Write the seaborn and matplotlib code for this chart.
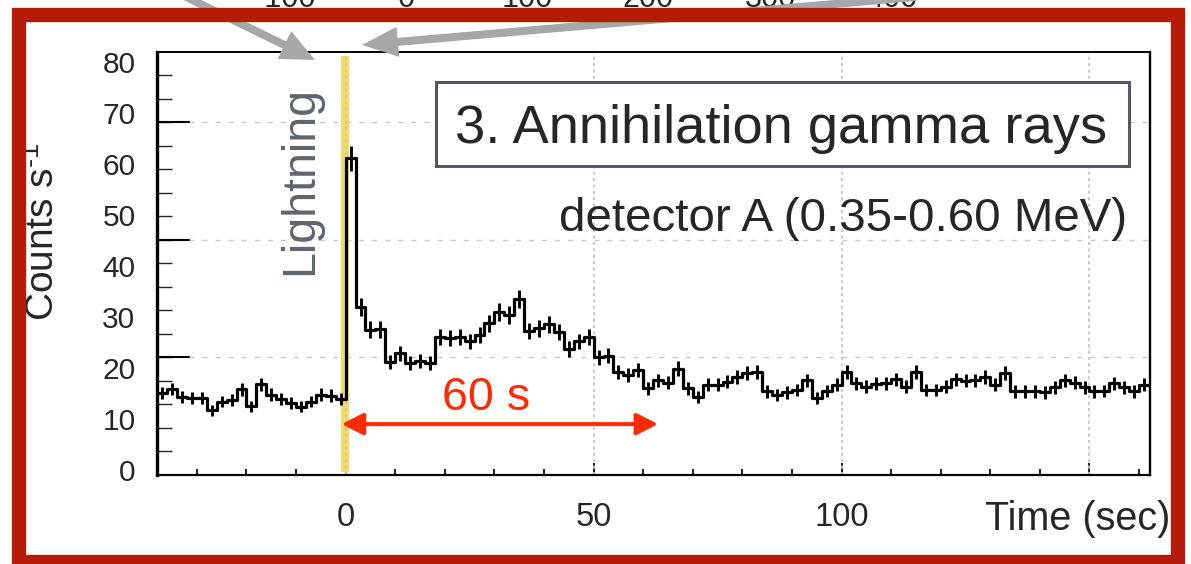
import numpy as np
import pandas as pd
import matplotlib
matplotlib.use("Agg")
import matplotlib.pyplot as plt
import seaborn as sns
from matplotlib.patches import Rectangle, FancyArrow
from matplotlib.transforms import IdentityTransform

# ---------------- data ----------------
bin_left = np.arange(-38, 162, 2)          # 2-s bins, left edges (sec)
rate_before = [15.1, 15.9, 14.4, 14.1, 14.1, 11.7, 13.4, 13.7, 15.8, 12.5,
               16.8, 14.8, 14.0, 13.1, 12.4, 13.4, 14.8, 14.6, 14.0]
rate_after = [61.1, 32.0, 27.5, 27.6, 21.2, 22.9, 21.0, 21.4, 21.0, 26.1,
              25.8, 26.1, 25.2, 26.5, 28.8, 31.0, 30.4, 33.5, 27.3, 27.8,
              28.6, 27.1, 23.7, 25.2, 26.0, 22.1, 22.4, 19.3, 18.6, 19.6,
              16.0, 17.6, 17.1, 19.9, 16.0, 14.4, 16.7, 16.7, 17.3, 18.2,
              19.0, 19.3, 15.4, 14.7, 15.2, 15.7, 17.6, 14.1, 15.5, 16.7,
              19.3, 17.0, 16.3, 16.9, 17.0, 17.8, 16.3, 19.3, 15.7, 15.7,
              16.3, 17.8, 17.5, 17.6, 18.2, 16.7, 19.0, 15.4, 15.4, 15.4,
              15.2, 16.2, 17.6, 17.1, 16.2, 15.4, 15.5, 17.0, 16.2, 15.4,
              16.7]
rates = rate_before + rate_after
x_tick_values = [0, 50, 100, 150]
x_tick_labels = ["0", "50", "100", ""]
y_tick_values = [0, 10, 20, 30, 40, 50, 60, 70, 80]
top_labels = ["-100", "0", "100", "200", "300", "400"]

df = pd.DataFrame({"time": bin_left + 1.0, "rate": rates})
df["err"] = 0.31 * np.sqrt(df["rate"])
edges = [float(e) for e in np.append(bin_left, bin_left[-1] + 2)]

# ---------------- style ----------------
sns.set_style("ticks")
plt.rcParams["font.family"] = ["Liberation Sans", "DejaVu Sans"]
plt.rcParams["mathtext.fontset"] = "custom"
plt.rcParams["mathtext.rm"] = "Liberation Sans"
plt.rcParams["mathtext.default"] = "regular"
plt.rcParams["lines.scale_dashes"] = False

W, H = 1191, 564
fig = plt.figure(figsize=(W / 100, H / 100), dpi=100)
fig.patch.set_facecolor("white")


def fx(px):
    return px / W


def fy(py):
    return 1 - py / H


ax = fig.add_axes([fx(157), fy(475), fx(1150) - fx(157), fy(52) - fy(475)])
ax.set_facecolor("white")

sns.histplot(data=df, x="time", weights="rate", bins=edges, element="step",
             fill=False, color="black", linewidth=2.3, ax=ax, zorder=3)
ax.errorbar(df["time"], df["rate"], yerr=df["err"], fmt="none",
            ecolor="black", elinewidth=2.1, capsize=0, zorder=3)

ax.set_xlim(-38.04, 162.2)
ax.set_ylim(-0.98, 81.96)

# lightning band
ax.axvspan(-0.9, 0.75, ymin=0.007, ymax=0.99, color="#f5db5f", lw=0, zorder=0.6)

# grid lines
for gx in x_tick_values:
    ax.axvline(gx, color="#c4c4c4", lw=1.3, ls=(0, (2.2, 2.4)), zorder=0.8)
orig_minor = [-0.98 + 4.608 * k for k in range(1, 18)]
orig_major = [orig_minor[4], orig_minor[9], orig_minor[14]]
for gy in orig_major:
    ax.axhline(gy, xmin=32 / 993, color="#c8c8c8", lw=1.0,
               ls=(0, (3.6, 5.8)), zorder=0.8)
    ax.axhline(gy, xmin=0, xmax=32 / 993, color="black", lw=1.5, zorder=4)

# ticks
ax.set_yticks(y_tick_values)
ax.set_yticklabels([str(v) for v in y_tick_values])
ax.set_yticks(orig_minor, minor=True)
ax.tick_params(axis="y", which="major", length=0, pad=15.5, labelsize=21.5)
ax.tick_params(axis="y", which="minor", direction="in", length=11, width=1.0)
ax.set_xticks(x_tick_values)
ax.set_xticklabels(x_tick_labels)
ax.set_xticks(np.arange(-30, 161, 10), minor=True)
ax.tick_params(axis="x", which="major", direction="in", length=8.6, width=1.5,
               pad=19.5, labelsize=23.5)
ax.tick_params(axis="x", which="minor", direction="in", length=4.3, width=1.5)
ax.set_xlabel("")
ax.set_ylabel("")

for side, lw in [("left", 2.4), ("bottom", 1.6), ("top", 1.4), ("right", 1.7)]:
    ax.spines[side].set_visible(True)
    ax.spines[side].set_linewidth(lw)
    ax.spines[side].set_color("black")

# annotations inside the plot
ax.text(-9.2, 56.8, "Lightning", rotation=90, ha="center", va="center",
        fontsize=33.5, color="#5e656c", zorder=5)
ax.annotate("", xy=(-0.8, 9.0), xytext=(63.0, 9.0),
            arrowprops=dict(arrowstyle="<|-|>,head_length=0.65,head_width=0.33",
                            color="#ff2a00", lw=2.9, mutation_scale=20,
                            shrinkA=0, shrinkB=0), zorder=5)
fig.text(fx(486), fy(410.5), "60 s", color="#ff2a00", fontsize=33.6,
         ha="center", va="baseline")

fig.add_artist(Rectangle((fx(436), fy(166)), fx(1129) - fx(436), fy(82) - fy(166),
                         transform=fig.transFigure, facecolor="white",
                         edgecolor="#53595f", lw=2.2, zorder=5))
fig.text(fx(781), fy(143), "3. Annihilation gamma rays", ha="center",
         va="baseline", fontsize=39.2, zorder=6)
fig.text(fx(1127), fy(231), "detector A (0.35-0.60 MeV)", ha="right",
         va="baseline", fontsize=34.2, zorder=6)

fig.text(fx(1170), fy(530), "Time (sec)", ha="right", va="baseline", fontsize=28.5)
fig.text(fx(43), fy(232), "Counts s$^{\\text{-1}}$", rotation=90, ha="center",
         va="center", fontsize=28)

# top partial labels (cut by the frame, as in the source slide)
for s, px in zip(top_labels, [285, 406, 527, 648, 770, 892]):
    fig.text(fx(px), fy(7), s, ha="center", va="baseline", fontsize=22)

# gray arrows
arrow_kw = dict(length_includes_head=True, color="#a5a8a7", lw=0,
                transform=IdentityTransform(), zorder=8)
fig.add_artist(FancyArrow(172, H + 10, 143, -70, width=8, head_width=31,
                          head_length=34, **arrow_kw))
fig.add_artist(FancyArrow(915, H + 3, -553, -48, width=8, head_width=30,
                          head_length=36, **arrow_kw))

# red frame
fig.add_artist(Rectangle((fx(18.85), fy(562.2)), fx(1177.85) - fx(18.85),
                         fy(14.5) - fy(562.2), transform=fig.transFigure,
                         fill=False, edgecolor="#b51b08", lw=14.3 * 0.72,
                         joinstyle="miter", zorder=10))

fig.savefig("out.png", dpi=100)
